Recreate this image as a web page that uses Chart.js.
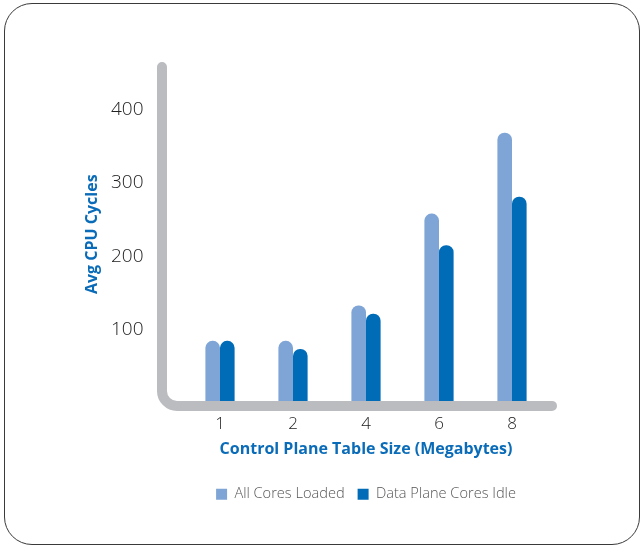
<!DOCTYPE html>
<html>
<head>
<meta charset="utf-8">
<script src="https://cdn.jsdelivr.net/npm/chart.js@4"></script>
<style>
  html, body { margin: 0; padding: 0; background: #fff; }
  #wrap { position: relative; width: 642px; height: 548px; }
  #frame {
    position: absolute; left: 4px; top: 3px; width: 636px; height: 542px;
    border: 1px solid #3a3a3a; border-radius: 28px; box-sizing: border-box;
  }
  canvas { position: absolute; left: 0; top: 0; }
</style>
</head>
<body>
<div id="wrap">
  <div id="frame"></div>
  <canvas id="chart" width="642" height="548"></canvas>
</div>
<script>
// table sizes in megabytes
const tableSizes = ['1', '2', '4', '6', '8'];
const allCoresLoaded = [85, 85, 133, 258, 368];
const dataPlaneCoresIdle = [85, 74, 122, 215, 281];
const yTicks = [100, 200, 300, 400];

const lightBlue = '#7fa5d6';
const darkBlue = '#006bb7';
const titleBlue = '#0a6cb8';
const axisGray = '#bbbcc0';

// rounded L-shaped axis drawn over the bar feet
const roundedAxis = {
  id: 'roundedAxis',
  afterDatasetsDraw(chart) {
    const ctx = chart.ctx;
    const a = chart.chartArea;
    const x0 = a.left - 21.5;
    const yb = a.bottom + 2.5;
    const r = 15;
    ctx.save();
    ctx.strokeStyle = axisGray;
    ctx.lineWidth = 10;
    ctx.lineCap = 'round';
    ctx.beginPath();
    ctx.moveTo(x0, a.top + 2);
    ctx.lineTo(x0, yb - r);
    ctx.arcTo(x0, yb, x0 + r, yb, r);
    ctx.lineTo(a.right + 3.5, yb);
    ctx.stroke();
    ctx.restore();
  }
};

new Chart(document.getElementById('chart'), {
  type: 'bar',
  data: {
    labels: tableSizes,
    datasets: [{
      label: 'All Cores Loaded',
      data: allCoresLoaded,
      backgroundColor: lightBlue,
      borderRadius: 7,
      borderSkipped: 'start'
    }, {
      label: 'Data Plane Cores Idle',
      data: dataPlaneCoresIdle,
      backgroundColor: darkBlue,
      borderRadius: 7,
      borderSkipped: 'start'
    }]
  },
  options: {
    responsive: false,
    animation: false,
    categoryPercentage: 0.4,
    barPercentage: 1.0,
    layout: {
      padding: { left: 70, right: 93.5, top: 65, bottom: 36.5 }
    },
    plugins: {
      tooltip: { enabled: false },
      legend: {
        position: 'bottom',
        fullSize: false,
        labels: {
          boxWidth: 11,
          boxHeight: 11,
          padding: 13,
          color: '#555',
          font: { family: 'Open Sans', size: 14.6, weight: '300' }
        }
      }
    },
    scales: {
      x: {
        grid: { display: false, drawTicks: false },
        border: { display: false },
        afterFit(axis) { axis.height = 70.5; },
        ticks: {
          padding: 11,
          color: '#222',
          font: { family: 'Open Sans', size: 17, weight: '300' }
        },
        title: {
          display: true,
          text: 'Control Plane Table Size (Megabytes)',
          color: titleBlue,
          padding: { top: 7, bottom: 14.5 },
          font: { family: 'Open Sans', size: 16, weight: 'bold' }
        }
      },
      y: {
        min: 0,
        max: 460,
        grid: { display: false, drawTicks: false },
        border: { display: false },
        afterBuildTicks(axis) {
          axis.ticks = yTicks.map(v => ({ value: v }));
        },
        afterFit(axis) { axis.width = 113.5; },
        ticks: {
          padding: 40,
          color: '#222',
          font: { family: 'Open Sans', size: 19, weight: '300' }
        },
        title: {
          display: true,
          text: 'Avg CPU Cycles',
          color: titleBlue,
          padding: { top: 13, bottom: 4 },
          font: { family: 'Open Sans', size: 16, weight: 'bold' }
        }
      }
    }
  },
  plugins: [roundedAxis]
});
</script>
</body>
</html>
